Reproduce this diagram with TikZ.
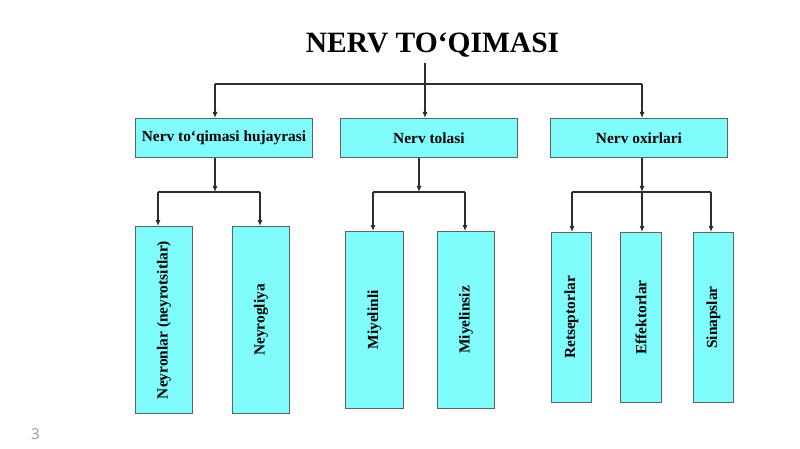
\documentclass[tikz,border=0pt]{standalone}
\usepackage{fontspec}
\setmainfont{Liberation Serif}
\newfontfamily\pagenumfont{Open Sans}
\usetikzlibrary{arrows.meta}
\definecolor{boxfill}{RGB}{128,252,252}
\definecolor{boxline}{RGB}{90,100,100}
\definecolor{linecol}{RGB}{45,45,45}
\tikzset{
  cbox/.style={draw=boxline, line width=0.9pt, fill=boxfill, inner sep=0pt, anchor=north west,
    font=\fontsize{15.4}{18}\selectfont\bfseries},
  vlabel/.style={rotate=90, inner sep=0pt, font=\fontsize{15.4}{18}\selectfont\bfseries},
  conn/.style={draw=linecol, line width=1.1pt},
  arr/.style={conn, -{Latex[length=6pt,width=5pt]}}
}
\begin{document}
\begin{tikzpicture}[x=1pt,y=1pt]
\useasboundingbox (0,0) rectangle (800,-449);
\fill[white] (0,0) rectangle (800,-449);

% title
\node[anchor=base, inner sep=0pt, font=\fontsize{29.5}{34}\selectfont\bfseries] (title) at (432.5,-53) {NERV TO‘QIMASI};

% level 1 boxes
\node[cbox, minimum width=177pt, minimum height=39pt] (b1) at (135,-118) {Nerv to‘qimasi hujayrasi};
\node[cbox, minimum width=177pt, minimum height=39pt] (b2) at (340,-118) {Nerv tolasi};
\node[cbox, minimum width=177pt, minimum height=39pt] (b3) at (550,-118) {Nerv oxirlari};

% level 2 boxes
\node[cbox, minimum width=57pt, minimum height=187pt] (c1) at (135,-226) {};
\node[vlabel] (t1) at (c1.center) {Neyronlar (neyrotsitlar)};
\node[cbox, minimum width=57pt, minimum height=187pt] (c2) at (232,-226) {};
\node[vlabel] (t2) at (c2.center) {Neyrogliya};

\node[cbox, minimum width=58pt, minimum height=177pt] (c3) at (345,-231) {};
\node[vlabel] (t3) at (c3.center) {Miyelinli};
\node[cbox, minimum width=57pt, minimum height=177pt] (c4) at (437,-231) {};
\node[vlabel] (t4) at (c4.center) {Miyelinsiz};

\node[cbox, minimum width=40pt, minimum height=170pt] (c5) at (551,-232) {};
\node[vlabel] (t5) at (c5.center) {Retseptorlar};
\node[cbox, minimum width=41pt, minimum height=170pt] (c6) at (620,-232) {};
\node[vlabel] (t6) at (c6.center) {Effektorlar};
\node[cbox, minimum width=40pt, minimum height=170pt] (c7) at (693,-232) {};
\node[vlabel] (t7) at (c7.center) {Sinapslar};

% page number
\node[anchor=base west, inner sep=0pt, text=gray!80, font=\pagenumfont\fontsize{15}{18}\selectfont] (pn) at (31,-439) {3};

% junction coordinates
\coordinate (ts) at (425,-63);
\coordinate (tj) at (425,-84);
\coordinate (tl) at (215,-84);
\coordinate (tr) at (642,-84);

\coordinate (j1) at (215,-192);
\coordinate (j1l) at (158,-192);
\coordinate (j1r) at (260,-192);

\coordinate (j2) at (419,-192);
\coordinate (j2l) at (373,-192);
\coordinate (j2r) at (465,-192);

\coordinate (j3) at (642,-192);
\coordinate (j3l) at (572,-192);
\coordinate (j3r) at (711,-192);

% title connectors
\draw[conn] (tl) -- (tr);
\draw[arr] (ts) -- (tj |- b2.north);
\draw[arr] (tl) -- (tl |- b1.north);
\draw[arr] (tr) -- (tr |- b3.north);

% group 1
\draw[arr] (j1 |- b1.south) -- (j1);
\draw[conn] (j1l) -- (j1r);
\draw[arr] (j1l) -- (j1l |- c1.north);
\draw[arr] (j1r) -- (j1r |- c2.north);

% group 2
\draw[arr] (j2 |- b2.south) -- (j2);
\draw[conn] (j2l) -- (j2r);
\draw[arr] (j2l) -- (j2l |- c3.north);
\draw[arr] (j2r) -- (j2r |- c4.north);

% group 3
\draw[arr] (j3 |- b3.south) -- (j3);
\draw[conn] (j3l) -- (j3r);
\draw[arr] (j3l) -- (j3l |- c5.north);
\draw[arr] (j3) -- (j3 |- c6.north);
\draw[arr] (j3r) -- (j3r |- c7.north);
\end{tikzpicture}
\end{document}
